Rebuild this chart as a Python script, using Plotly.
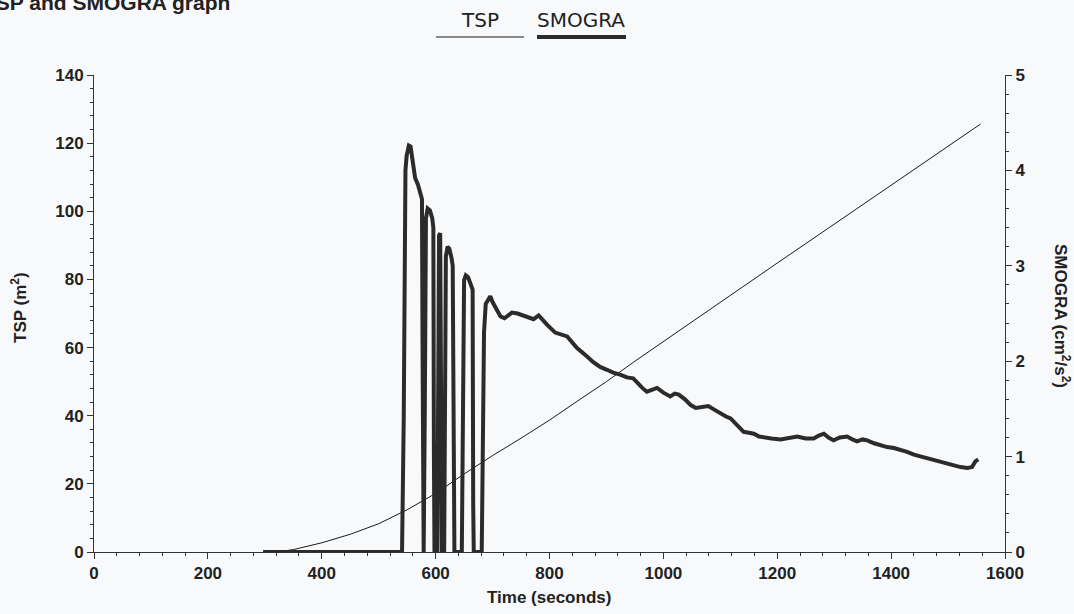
import plotly.graph_objects as go

# ---- data ----
tsp_time = [297, 325, 350, 400, 450, 500, 550, 600, 650, 700, 750, 800, 850, 900, 950,
            1000, 1050, 1100, 1150, 1200, 1250, 1300, 1350, 1400, 1450, 1500, 1550, 1557]
tsp_vals = [0, 0.1, 0.7, 2.7, 5.2, 8.3, 12.4, 17.2, 22.9, 28.3, 33.4, 38.7, 44.4, 50.0, 56.0,
            61.8, 67.6, 73.4, 79.1, 84.8, 90.5, 96.2, 101.9, 107.6, 113.3, 119.0, 124.8, 125.6]

smogra_time = [297, 541, 544, 547, 549, 553, 556, 560, 564, 569, 573, 576, 577, 578,
               579, 581, 583, 586, 590, 594, 596, 597, 598,
               603, 606, 608, 610, 611,
               615, 618, 621, 624, 628, 630, 632, 633,
               646, 650, 653, 657, 662, 665, 666, 667,
               681, 685, 688, 692, 696, 700, 704, 708, 714, 721, 727, 734, 744, 754, 763,
               772, 781, 789, 796, 810, 819, 831, 848, 857, 866, 877, 889, 901, 912, 924,
               936, 947, 954, 963, 971, 980, 989, 1000, 1012, 1020, 1027, 1038, 1048, 1057,
               1065, 1079, 1090, 1100, 1110, 1118, 1130, 1141, 1150, 1159, 1168, 1176, 1190,
               1206, 1220, 1235, 1250, 1264, 1273, 1282, 1290, 1299, 1310, 1323, 1332, 1340,
               1350, 1358, 1370, 1381, 1393, 1405, 1417, 1428, 1440, 1452, 1463, 1475, 1487,
               1498, 1510, 1522, 1534, 1542, 1548, 1553]
smogra_vals = [0, 0, 1.4, 4.0, 4.15, 4.26, 4.25, 4.1, 3.92, 3.85, 3.78, 3.70, 2.2, 0,
               0, 1.5, 3.5, 3.6, 3.58, 3.5, 3.4, 1.0, 0,
               0, 3.32, 3.34, 1.5, 0,
               0, 3.1, 3.2, 3.18, 3.08, 3.0, 1.0, 0,
               0, 2.85, 2.9, 2.88, 2.8, 2.75, 0.5, 0,
               0, 2.3, 2.6, 2.65, 2.68, 2.62, 2.58, 2.52, 2.47, 2.45, 2.48, 2.51, 2.50, 2.48, 2.46,
               2.44, 2.48, 2.42, 2.38, 2.30, 2.28, 2.26, 2.14, 2.10, 2.05, 1.99, 1.94, 1.91, 1.88, 1.86,
               1.83, 1.82, 1.77, 1.72, 1.68, 1.70, 1.72, 1.67, 1.63, 1.66, 1.65, 1.60, 1.54, 1.51,
               1.52, 1.53, 1.49, 1.45, 1.42, 1.40, 1.33, 1.26, 1.25, 1.24, 1.21, 1.20, 1.19,
               1.18, 1.19, 1.21, 1.19, 1.19, 1.22, 1.24, 1.20, 1.17, 1.20, 1.21, 1.18, 1.16,
               1.18, 1.17, 1.14, 1.12, 1.10, 1.09, 1.07, 1.05, 1.02, 1.00, 0.98, 0.96, 0.94,
               0.92, 0.90, 0.89, 0.88, 0.89, 0.95, 0.97]

x_ticks = [0, 200, 400, 600, 800, 1000, 1200, 1400, 1600]
y_left_ticks = [0, 20, 40, 60, 80, 100, 120, 140]
y_right_ticks = [0, 1, 2, 3, 4, 5]

# ---- figure ----
W, H = 1074, 614
L, R, T, B = 94, 69, 75, 62
pw, ph = W - L - R, H - T - B


def px2x(px):
    return (px - L) / pw


def py2y(py):
    return (H - B - py) / ph


fig = go.Figure()
fig.add_trace(go.Scatter(x=tsp_time, y=tsp_vals, mode="lines", name="TSP",
                         line=dict(color="#1a1a1a", width=1), yaxis="y", showlegend=False))
fig.add_trace(go.Scatter(x=smogra_time, y=smogra_vals, mode="lines", name="SMOGRA",
                         line=dict(color="#2b2b2b", width=4), yaxis="y2", showlegend=False))

ARIAL = "Liberation Sans, Arial, sans-serif"
tickfont = dict(family=ARIAL, size=17, color="#222")
axcommon = dict(showgrid=False, zeroline=False, showline=True, linecolor="#333", linewidth=1,
                ticks="outside", ticklen=6, tickcolor="#333", tickfont=tickfont)

fig.update_layout(
    width=W, height=H,
    margin=dict(l=L, r=R, t=T, b=B),
    paper_bgcolor="#f8f9fb", plot_bgcolor="#f8f9fb",
    xaxis=dict(range=[0, 1600], tickvals=x_ticks, ticktext=[f"<b>{v}</b>" for v in x_ticks],
               minor=dict(dtick=40, ticklen=3, ticks="outside", tickcolor="#333"),
               **axcommon),
    yaxis=dict(range=[0, 140], tickvals=y_left_ticks, ticktext=[f"<b>{v}</b>" for v in y_left_ticks],
               minor=dict(dtick=4, ticklen=3, ticks="outside", tickcolor="#333"),
               **axcommon),
    yaxis2=dict(range=[0, 5], overlaying="y", side="right", anchor="x",
                tickvals=y_right_ticks, ticktext=[f"<b>{v}</b>" for v in y_right_ticks],
                minor=dict(dtick=0.2, ticklen=3, ticks="outside", tickcolor="#333"),
                **axcommon),
)

boldfont = dict(family=ARIAL, size=17, color="#222")
legfont = dict(family="DejaVu Sans, sans-serif", size=20, color="#222")
ann = [
    dict(text="<b>Time (seconds)</b>", x=px2x(549), y=py2y(597), xref="paper", yref="paper",
         showarrow=False, font=boldfont, xanchor="center", yanchor="middle"),
    dict(text="<b>TSP (m<sup>2</sup>)</b>", x=px2x(19), y=py2y(308), xref="paper", yref="paper",
         showarrow=False, font=boldfont, textangle=-90, xanchor="center", yanchor="middle"),
    dict(text="<b>SMOGRA (cm<sup>2</sup>/s<sup>2</sup>)</b>", x=px2x(1062), y=py2y(316),
         xref="paper", yref="paper",
         showarrow=False, font=boldfont, textangle=90, xanchor="center", yanchor="middle"),
    dict(text="<b>TSP and SMOGRA graph</b>", x=px2x(232), y=py2y(2), xref="paper", yref="paper",
         showarrow=False, font=dict(family=ARIAL, size=21, color="#222"),
         xanchor="right", yanchor="middle"),
    dict(text="TSP", x=px2x(480), y=py2y(20), xref="paper", yref="paper",
         showarrow=False, font=legfont, xanchor="center", yanchor="middle"),
    dict(text="SMOGRA", x=px2x(581), y=py2y(20), xref="paper", yref="paper",
         showarrow=False, font=legfont, xanchor="center", yanchor="middle"),
]
fig.update_layout(annotations=ann)

fig.add_shape(type="line", xref="paper", yref="paper",
              x0=px2x(436), x1=px2x(524), y0=py2y(37), y1=py2y(37),
              line=dict(color="#1a1a1a", width=1.2))
fig.add_shape(type="line", xref="paper", yref="paper",
              x0=px2x(537), x1=px2x(626), y0=py2y(37), y1=py2y(37),
              line=dict(color="#2b2b2b", width=4))

fig.write_html("out.html", config={"displayModeBar": False},
               post_script="document.body.style.margin='0';document.body.style.overflow='hidden';")
